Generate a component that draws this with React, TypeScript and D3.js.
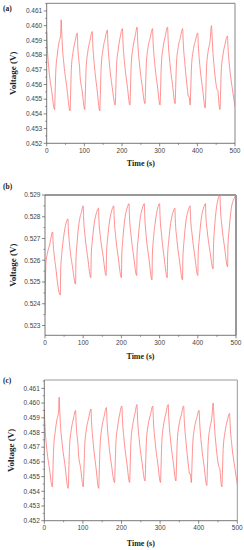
import React from "react";
import * as d3 from "d3";

const xTicks = [0, 100, 200, 300, 400, 500];
const xMinor = [50, 150, 250, 350, 450];
const yTicksAC = [0.452, 0.453, 0.454, 0.455, 0.456, 0.457, 0.458, 0.459, 0.46, 0.461];
const yTicksB = [0.523, 0.524, 0.525, 0.526, 0.527, 0.528, 0.529];

const seriesA: [number, number][] = [
  [0, 0.4596], [1.5, 0.4586], [6, 0.457], [13, 0.4556], [21, 0.4543],
  [22, 0.4551], [24, 0.4568], [28, 0.458], [33, 0.4589], [37, 0.4594], [38.5, 0.4604], [39.5, 0.4598],
  [41, 0.4589], [46, 0.4573], [53, 0.4559], [62, 0.4542],
  [63.5, 0.4554], [65.5, 0.4571], [70, 0.4582], [76, 0.459], [81, 0.4595],
  [82.5, 0.4586], [86, 0.4575], [87.5, 0.4571], [88.5, 0.4566], [94, 0.4556], [101, 0.4543],
  [102.5, 0.4553], [104.5, 0.457], [109, 0.4582], [115, 0.459], [121, 0.4596],
  [122.5, 0.4587], [127, 0.4572], [134, 0.4556], [141, 0.4542],
  [142.5, 0.4554], [144.5, 0.4571], [149, 0.4583], [155, 0.4591], [161, 0.4597],
  [162.5, 0.4588], [167, 0.4573], [174, 0.4558], [182, 0.4546],
  [183.5, 0.4557], [185.5, 0.4573], [190, 0.4584], [195, 0.4592], [201, 0.4598],
  [202.5, 0.4589], [207, 0.4574], [214, 0.4559], [221, 0.4546],
  [222.5, 0.4557], [224.5, 0.4574], [229, 0.4585], [235, 0.4593], [240, 0.4599],
  [241.5, 0.459], [246, 0.4575], [253, 0.456], [261, 0.4547],
  [262.5, 0.4558], [264.5, 0.4574], [269, 0.4585], [275, 0.4592], [281, 0.4598],
  [282.5, 0.4589], [287, 0.4574], [294, 0.4559], [301, 0.4546],
  [302.5, 0.4557], [304.5, 0.4574], [309, 0.4585], [315, 0.4593], [321, 0.4599],
  [322.5, 0.459], [327, 0.4575], [334, 0.456], [341, 0.4547],
  [342.5, 0.4558], [344.5, 0.4574], [349, 0.4585], [355, 0.4592], [361, 0.4598],
  [362.5, 0.4589], [367, 0.4574], [374, 0.4556], [376, 0.4552], [378, 0.4552], [381, 0.4546],
  [382.5, 0.4557], [384.5, 0.4572], [389, 0.4583], [395, 0.459], [401, 0.4595],
  [402.5, 0.4587], [407, 0.4572], [414, 0.4557], [421, 0.4544],
  [422.5, 0.4555], [424.5, 0.4572], [429, 0.4583], [434, 0.459], [437.5, 0.46], [439, 0.4594],
  [440.5, 0.4586], [445, 0.4571], [452, 0.4557], [455, 0.4555], [457, 0.4548], [460, 0.4543],
  [461.5, 0.4553], [463.5, 0.4569], [468, 0.458], [474, 0.4588], [480, 0.4593],
  [481.5, 0.4585], [486, 0.4571], [493, 0.4557], [500, 0.4545],
];

const seriesB: [number, number][] = [
  [0, 0.5235], [1, 0.5248], [2.5, 0.5259], [6, 0.5263], [12, 0.5267], [20, 0.5273],
  [21, 0.5269], [25, 0.5261], [28, 0.5257], [34, 0.5248], [40, 0.5244],
  [41, 0.5255], [44, 0.5263], [49, 0.5271], [55, 0.5277], [60, 0.5279],
  [61, 0.5275], [65, 0.5266], [72, 0.5257], [80, 0.5249],
  [81, 0.526], [84, 0.5268], [89, 0.5277], [95, 0.5282], [100, 0.5285],
  [101, 0.528], [105, 0.5271], [112, 0.5261], [120, 0.5252],
  [121, 0.5262], [124, 0.5269], [129, 0.5277], [135, 0.5282], [140, 0.5284],
  [141, 0.5279], [145, 0.5271], [152, 0.5262], [160, 0.5253],
  [161, 0.5263], [164, 0.527], [169, 0.5278], [175, 0.5283], [180, 0.5285],
  [181, 0.528], [185, 0.5271], [192, 0.5261], [200, 0.5252],
  [201, 0.5262], [204, 0.527], [209, 0.5279], [215, 0.5284], [220, 0.5286],
  [221, 0.5281], [225, 0.5272], [232, 0.5262], [240, 0.5253],
  [241, 0.5263], [244, 0.527], [249, 0.5279], [255, 0.5284], [260, 0.5286],
  [261, 0.5281], [265, 0.5271], [272, 0.5261], [280, 0.5251],
  [281, 0.5262], [284, 0.527], [289, 0.5278], [295, 0.5284], [300, 0.5286],
  [301, 0.5281], [305, 0.5272], [312, 0.5261], [320, 0.5252],
  [321, 0.5262], [324, 0.5269], [329, 0.5277], [335, 0.5282], [340, 0.5284],
  [341, 0.5279], [345, 0.527], [352, 0.526], [360, 0.5251],
  [361, 0.5261], [364, 0.5269], [369, 0.5278], [375, 0.5283], [380, 0.5285],
  [381, 0.528], [385, 0.5272], [392, 0.5262], [400, 0.5253],
  [401, 0.5263], [404, 0.527], [409, 0.5279], [415, 0.5284], [420, 0.5286],
  [421, 0.5281], [425, 0.5273], [432, 0.5264], [440, 0.5256],
  [441, 0.5266], [443.5, 0.5274], [448, 0.5283], [453, 0.5288], [458, 0.529],
  [459, 0.5285], [463, 0.5276], [470, 0.5266], [478, 0.5257],
  [479, 0.5267], [482, 0.5274], [487, 0.5283], [494, 0.5288], [500, 0.529],
];

const seriesC: [number, number][] = seriesA;

type PanelProps = {
  id: string;
  label: string;
  data: [number, number][];
  yDomain: [number, number];
  yTicks: number[];
  left: number;
  right: number;
  top: number;
  bottom: number;
  labelY: number;
  titleY: number;
  yTitleX: number;
  frameW: number;
};

const tickFont = "'Liberation Sans', Arial, sans-serif";
const titleFont = "'Liberation Serif', 'Times New Roman', serif";

function Panel(p: PanelProps) {
  const x = d3.scaleLinear().domain([0, 500]).range([p.left, p.right]);
  const y = d3.scaleLinear().domain(p.yDomain).range([p.bottom, p.top]);
  const line = d3
    .line<[number, number]>()
    .x((d) => x(d[0]))
    .y((d) => y(d[1]))
    .curve(d3.curveMonotoneX);
  const yMinor = p.yTicks.map((t) => t + 0.0005).filter((t) => t < p.yDomain[1]);
  const midY = (p.top + p.bottom) / 2;
  return (
    <g>
      <defs>
        <clipPath id={`clip-${p.id}`}>
          <rect x={p.left} y={p.top - 1} width={p.right - p.left} height={p.bottom - p.top + 1} />
        </clipPath>
      </defs>
      <path
        d={line(p.data) || ""}
        fill="none"
        stroke="#ff6f6f"
        strokeWidth={0.9}
        strokeOpacity={0.85}
        clipPath={`url(#clip-${p.id})`}
      />
      <line x1={p.left} x2={p.right} y1={p.top} y2={p.top} stroke="#999" strokeWidth={p.frameW} />
      <line x1={p.right} x2={p.right} y1={p.top} y2={p.bottom} stroke="#999" strokeWidth={p.frameW} />
      <line x1={p.left} x2={p.left} y1={p.top} y2={p.bottom} stroke="#555" strokeWidth={0.8} />
      <line x1={p.left} x2={p.right} y1={p.bottom} y2={p.bottom} stroke="#555" strokeWidth={0.8} />
      {xTicks.map((t) => (
        <g key={`xt${t}`}>
          <line x1={x(t)} x2={x(t)} y1={p.bottom} y2={p.bottom + 3} stroke="#555" strokeWidth={0.7} />
          <text
            x={x(t)}
            y={p.bottom + 9.5}
            textAnchor="middle"
            fontFamily={tickFont}
            fontSize={6.5}
            fill="#444"
          >
            {t}
          </text>
        </g>
      ))}
      {xMinor.map((t) => (
        <line key={`xm${t}`} x1={x(t)} x2={x(t)} y1={p.bottom} y2={p.bottom + 1.6} stroke="#555" strokeWidth={0.6} />
      ))}
      {p.yTicks.map((t) => (
        <g key={`yt${t}`}>
          <line x1={p.left - 3} x2={p.left} y1={y(t)} y2={y(t)} stroke="#555" strokeWidth={0.7} />
          <text
            x={p.left - 4.5}
            y={y(t)}
            dy="0.35em"
            textAnchor="end"
            fontFamily={tickFont}
            fontSize={6.5}
            fill="#444"
          >
            {d3.format(".3f")(t)}
          </text>
        </g>
      ))}
      {yMinor.map((t) => (
        <line key={`ym${t}`} x1={p.left - 1.6} x2={p.left} y1={y(t)} y2={y(t)} stroke="#555" strokeWidth={0.6} />
      ))}
      <text
        x={(p.left + p.right) / 2}
        y={p.titleY}
        dy="0.35em"
        textAnchor="middle"
        fontFamily={titleFont}
        fontWeight="bold"
        fontSize={8}
        fill="#222"
      >
        Time (s)
      </text>
      <text
        transform={`translate(${p.yTitleX},${midY}) rotate(-90)`}
        dy="0.35em"
        textAnchor="middle"
        fontFamily={titleFont}
        fontWeight="bold"
        fontSize={9}
        fill="#222"
      >
        Voltage (V)
      </text>
      <text
        x={3}
        y={p.labelY}
        dy="0.35em"
        fontFamily={titleFont}
        fontWeight="bold"
        fontSize={7.5}
        fill="#222"
      >
        {p.label}
      </text>
    </g>
  );
}

export default function App() {
  return (
    <svg
      width={244}
      height={550}
      viewBox="0 0 244 550"
      style={{ position: "absolute", left: 0, top: 0, background: "#fff" }}
    >
      <rect x={0} y={0} width={244} height={550} fill="#fff" />
      <Panel
        id="a"
        label="(a)"
        data={seriesA}
        yDomain={[0.452, 0.46152]}
        yTicks={yTicksAC}
        left={46.7}
        right={235}
        top={3.3}
        bottom={143.3}
        labelY={8.8}
        titleY={163}
        yTitleX={13.3}
        frameW={1.2}
      />
      <Panel
        id="b"
        label="(b)"
        data={seriesB}
        yDomain={[0.52255, 0.529]}
        yTicks={yTicksB}
        left={45}
        right={236}
        top={195}
        bottom={335.3}
        labelY={186.7}
        titleY={355.7}
        yTitleX={13.3}
        frameW={2}
      />
      <Panel
        id="c"
        label="(c)"
        data={seriesC}
        yDomain={[0.452, 0.46157]}
        yTicks={yTicksAC}
        left={44.3}
        right={237.3}
        top={380}
        bottom={520.7}
        labelY={380.7}
        titleY={543.3}
        yTitleX={10.5}
        frameW={1}
      />
    </svg>
  );
}
